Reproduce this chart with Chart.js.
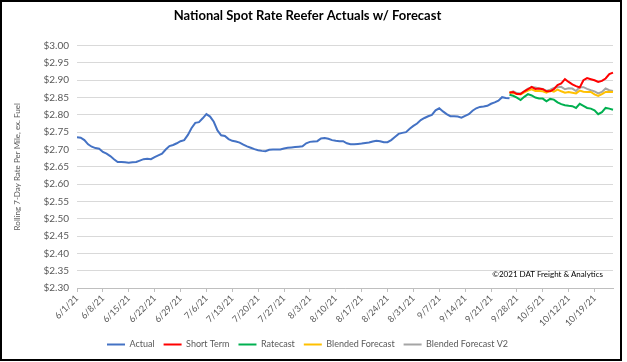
<!DOCTYPE html>
<html>
<head>
<meta charset="utf-8">
<script src="https://cdn.jsdelivr.net/npm/chart.js@4/dist/chart.umd.min.js"></script>
<style>
  body { margin: 0; background: #fff; width: 627px; height: 362px; position: relative; }
  #frame { position: absolute; left: 0; top: 0; width: 622px; height: 361px; border: 2px solid #000; box-sizing: border-box; }
  #credit { position: absolute; right: 24px; top: 269px; white-space: nowrap; font: 8px Lato, sans-serif; color: #000; }
</style>
</head>
<body>
<div id="frame"><canvas id="rateChart" width="618" height="357"></canvas></div>
<div id="credit">©2021 DAT Freight &amp; Analytics</div>
<script>
// weekly tick labels on the x axis (one per 7 days, starting 6/1/21)
const weekLabels = ['6/1/21', '6/8/21', '6/15/21', '6/22/21', '6/29/21', '7/6/21', '7/13/21', '7/20/21',
  '7/27/21', '8/3/21', '8/10/21', '8/17/21', '8/24/21', '8/31/21', '9/7/21', '9/14/21', '9/21/21',
  '9/28/21', '10/5/21', '10/12/21', '10/19/21'];

// daily actuals, 6/1/21 .. 9/26/21
const actual = [
  2.735, 2.734, 2.727, 2.715, 2.708, 2.704, 2.702, 2.693, 2.688, 2.681,
  2.672, 2.664, 2.664, 2.663, 2.662, 2.663, 2.664, 2.668, 2.672, 2.673,
  2.672, 2.678, 2.683, 2.688, 2.700, 2.710, 2.713, 2.718, 2.724, 2.727,
  2.742, 2.762, 2.777, 2.779, 2.790, 2.802, 2.795, 2.780, 2.755, 2.741,
  2.739, 2.730, 2.725, 2.723, 2.720, 2.714, 2.709, 2.705, 2.701, 2.698,
  2.696, 2.695, 2.699, 2.700, 2.700, 2.700, 2.703, 2.705, 2.706, 2.707,
  2.708, 2.709, 2.718, 2.722, 2.723, 2.724, 2.732, 2.733, 2.731, 2.727,
  2.725, 2.724, 2.724, 2.718, 2.715, 2.715, 2.716, 2.717, 2.719, 2.720,
  2.723, 2.725, 2.724, 2.721, 2.721, 2.727, 2.736, 2.745, 2.748, 2.750,
  2.760, 2.768, 2.775, 2.785, 2.791, 2.796, 2.800, 2.813, 2.819, 2.810,
  2.802, 2.796, 2.796, 2.795, 2.792, 2.797, 2.802, 2.812, 2.819, 2.823,
  2.824, 2.826, 2.832, 2.836, 2.841, 2.851, 2.849, 2.848
];

// forecasts, 9/26/21 .. 10/24/21
const shortTerm = [
  2.864, 2.866, 2.860, 2.860, 2.868, 2.874, 2.881, 2.875, 2.876, 2.874,
  2.868, 2.868, 2.874, 2.886, 2.891, 2.903, 2.895, 2.888, 2.883, 2.879,
  2.900, 2.906, 2.903, 2.900, 2.895, 2.898, 2.905, 2.918, 2.922
];
const ratecast = [
  2.858, 2.855, 2.850, 2.843, 2.852, 2.860, 2.856, 2.850, 2.847, 2.847,
  2.839, 2.846, 2.844, 2.836, 2.831, 2.828, 2.826, 2.825, 2.820, 2.832,
  2.826, 2.820, 2.818, 2.813, 2.802, 2.808, 2.820, 2.818, 2.815
];
const blended = [
  2.866, 2.863, 2.860, 2.859, 2.865, 2.870, 2.874, 2.869, 2.869, 2.868,
  2.864, 2.870, 2.867, 2.873, 2.868, 2.864, 2.866, 2.864, 2.862, 2.870,
  2.867, 2.866, 2.866, 2.859, 2.855, 2.860, 2.866, 2.867, 2.866
];
const blendedV2 = [
  2.864, 2.868, 2.863, 2.862, 2.868, 2.876, 2.880, 2.879, 2.876, 2.875,
  2.869, 2.873, 2.878, 2.880, 2.881, 2.874, 2.877, 2.876, 2.869, 2.880,
  2.880, 2.875, 2.871, 2.868, 2.862, 2.866, 2.876, 2.871, 2.869
];

const forecastStart = 117; // index of 9/26/21
const totalDays = forecastStart + shortTerm.length;

// one category per day
const days = [];
for (let i = 0; i < totalDays; i++) {
  const d = new Date(2021, 5, 1 + i);
  days.push((d.getMonth() + 1) + '/' + d.getDate() + '/21');
}

function padForecast(values) {
  return Array(forecastStart).fill(null).concat(values);
}

const font = "Lato, sans-serif";
const grey = '#595959';

const ctx = document.getElementById('rateChart').getContext('2d');
new Chart(ctx, {
  type: 'line',
  data: {
    labels: days,
    datasets: [
      { label: 'Actual', data: actual, borderColor: '#4472C4' },
      { label: 'Short Term', data: padForecast(shortTerm), borderColor: '#FF0000' },
      { label: 'Ratecast', data: padForecast(ratecast), borderColor: '#00B050' },
      { label: 'Blended Forecast', data: padForecast(blended), borderColor: '#FFC000' },
      { label: 'Blended Forecast V2', data: padForecast(blendedV2), borderColor: '#A5A5A5' }
    ].map(ds => Object.assign(ds, { borderWidth: 2, pointRadius: 0, fill: false, tension: 0 }))
  },
  options: {
    responsive: false,
    animation: false,
    devicePixelRatio: 1,
    layout: { padding: { left: 0, right: 7, top: 0, bottom: 0 } },
    plugins: {
      title: {
        display: true,
        text: 'National Spot Rate Reefer Actuals w/ Forecast',
        color: '#000',
        font: { family: font, size: 13, weight: 'bold' },
        padding: { top: 6, bottom: 22 }
      },
      legend: {
        position: 'bottom',
        labels: {
          usePointStyle: true,
          pointStyle: 'line',
          pointStyleWidth: 18,
          boxHeight: 8,
          padding: 9,
          color: grey,
          font: { family: font, size: 9 }
        }
      },
      tooltip: { enabled: false }
    },
    scales: {
      x: {
        grid: { drawOnChartArea: false, drawTicks: true, tickLength: 4, color: '#bfbfbf' },
        border: { display: true, color: '#bfbfbf' },
        ticks: {
          autoSkip: false,
          minRotation: 45,
          maxRotation: 45,
          padding: 1,
          color: grey,
          font: { family: font, size: 9 },
          callback: (v, i) => (i % 7 === 0 ? weekLabels[i / 7] : null)
        },
        afterFit: s => { s.height = 43; }
      },
      y: {
        min: 2.30,
        max: 3.00,
        grid: { color: '#d9d9d9', drawTicks: false },
        border: { display: false },
        ticks: {
          stepSize: 0.05,
          padding: 8,
          color: grey,
          font: { family: font, size: 10 },
          callback: v => '$' + v.toFixed(2)
        },
        title: {
          display: true,
          text: 'Rolling 7-Day Rate Per Mile, ex. Fuel',
          color: grey,
          font: { family: font, size: 8 },
          padding: { top: 11, bottom: 0 }
        },
        afterFit: s => { s.width = 75; }
      }
    }
  }
});
</script>
</body>
</html>
